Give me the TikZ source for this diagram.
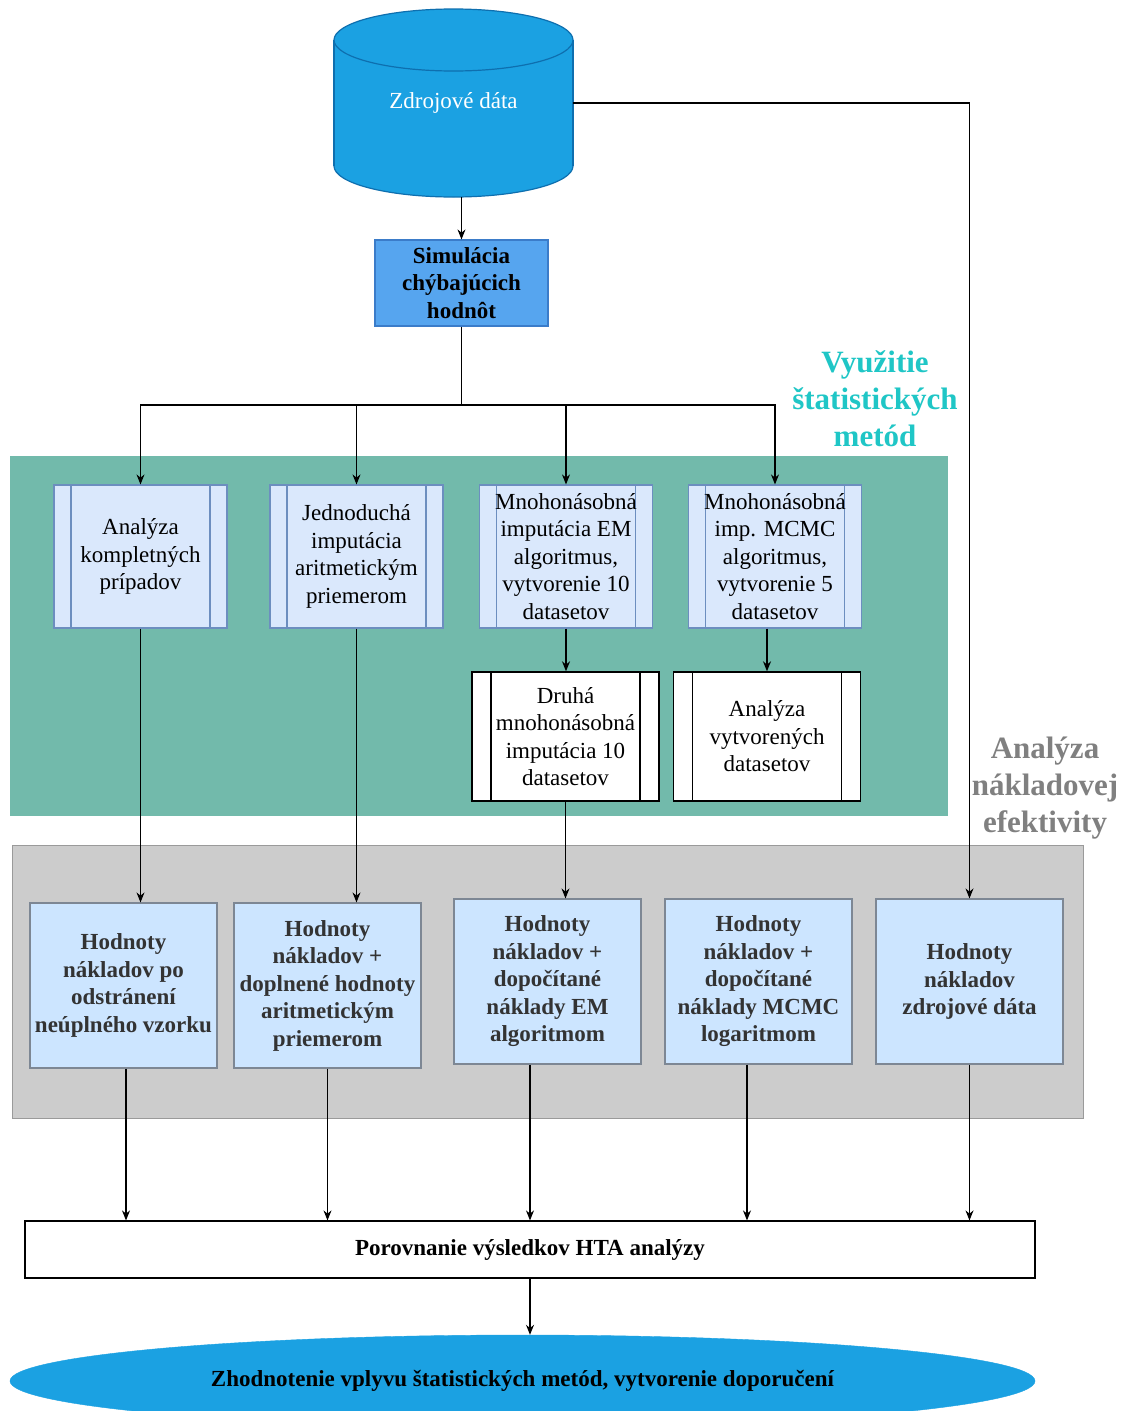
\documentclass[tikz,border=0pt]{standalone}
\usepackage{fontspec}
\setmainfont{Liberation Serif}
\usetikzlibrary{shapes.geometric,arrows.meta,calc}

\definecolor{cylblue}{HTML}{1BA1E2}
\definecolor{cylline}{HTML}{0E6FAF}
\definecolor{simblue}{HTML}{56A5EF}
\definecolor{simline}{HTML}{3B7CC9}
\definecolor{panelgreen}{HTML}{72BAAB}
\definecolor{procfill}{HTML}{DAE8FC}
\definecolor{procline}{HTML}{6C8EBF}
\definecolor{panelgray}{HTML}{CCCCCC}
\definecolor{grayline}{HTML}{9A9A9A}
\definecolor{costfill}{HTML}{CCE5FF}
\definecolor{costline}{HTML}{7D8794}
\definecolor{costtext}{HTML}{333333}
\definecolor{titlecyan}{HTML}{1FC6C6}
\definecolor{titlegray}{HTML}{808080}

\tikzset{
  txt/.style={font=\fontsize{23}{27.5}\selectfont, align=center},
  btxt/.style={font=\fontsize{23}{27.5}\selectfont\bfseries, align=center},
  grouptitle/.style={font=\fontsize{31}{37}\selectfont\bfseries, align=center},
  arr/.style={-{Stealth[length=10pt,width=8pt]}, line width=1.2pt},
  link/.style={line width=1.2pt},
  procbox/.style={draw=procline, fill=procfill, line width=1.2pt,
    minimum width=173, minimum height=143, inner sep=0, txt,
    path picture={\draw[procline, line width=1.2pt]
      ([xshift=17pt]path picture bounding box.north west) -- ([xshift=17pt]path picture bounding box.south west)
      ([xshift=-17pt]path picture bounding box.north east) -- ([xshift=-17pt]path picture bounding box.south east);}},
  subbox/.style={draw=black, fill=white, line width=1.4pt,
    minimum width=187, minimum height=129, inner sep=0, txt,
    path picture={\draw[black, line width=1.4pt]
      ([xshift=19pt]path picture bounding box.north west) -- ([xshift=19pt]path picture bounding box.south west)
      ([xshift=-19pt]path picture bounding box.north east) -- ([xshift=-19pt]path picture bounding box.south east);}},
  costbox/.style={draw=costline, fill=costfill, line width=1.2pt,
    minimum width=187, minimum height=165, inner sep=0, btxt, text=costtext},
}

\begin{document}
\begin{tikzpicture}[x=1pt, y=-1pt]
\clip (0,0) rectangle (1127,1411);
\fill[white] (0,0) rectangle (1127,1411);

% data source cylinder
\fill[cylblue, draw=cylline, line width=1.2pt] (453.5,166) ellipse [x radius=119.5, y radius=31];
\fill[cylblue] (334,40) rectangle (573,166);
\draw[cylline, line width=1.2pt] (334,40) -- (334,166) (573,40) -- (573,166);
\fill[cylblue, draw=cylline, line width=1.2pt] (453.5,40) ellipse [x radius=119.5, y radius=31];
\node[txt, text=white, minimum width=239, minimum height=188, inner sep=0] (src) at (453.5,103) {Zdrojové dáta};

% simulation step
\node[btxt, draw=simline, fill=simblue, line width=1.2pt, minimum width=173, minimum height=86, inner sep=0]
  (sim) at (461.5,283) {Simulácia\\chýbajúcich\\hodnôt};

% group panels
\fill[panelgreen] (10,456) rectangle (948,816);
\fill[panelgray, draw=grayline, line width=1pt] (12,845) rectangle (1083,1118);
\node[grouptitle, text=titlecyan] (gstat) at (875,399) {Využitie\\štatistických\\metód};
\node[grouptitle, text=titlegray] (gcost) at (1045,788) {Analýza\\nákladovej\\efektivity};

% statistical methods
\node[procbox] (p1) at (140.5,556.5) {Analýza\\kompletných\\prípadov};
\node[procbox] (p2) at (356.5,556.5) {Jednoduchá\\imputácia\\aritmetickým\\priemerom};
\node[procbox] (p3) at (566,556.5) {Mnohonásobná\\imputácia EM\\algoritmus,\\vytvorenie 10\\datasetov};
\node[procbox] (p4) at (775,556.5) {Mnohonásobná\\imp. MCMC\\algoritmus,\\vytvorenie 5\\datasetov};
\node[subbox] (p5) at (565.5,736.5) {Druhá\\mnohonásobná\\imputácia 10\\datasetov};
\node[subbox] (p6) at (767,736.5) {Analýza\\vytvorených\\datasetov};

% cost values
\node[costbox] (b1) at (123.5,985.5) {Hodnoty\\nákladov po\\odstránení\\neúplného vzorku};
\node[costbox] (b2) at (327.5,985.5) {Hodnoty\\nákladov +\\doplnené hodnoty\\aritmetickým\\priemerom};
\node[costbox] (b3) at (547.5,981.5) {Hodnoty\\nákladov +\\dopočítané\\náklady EM\\algoritmom};
\node[costbox] (b4) at (758.5,981.5) {Hodnoty\\nákladov +\\dopočítané\\náklady MCMC\\logaritmom};
\node[costbox] (b5) at (969.5,981.5) {Hodnoty\\nákladov\\zdrojové dáta};

% comparison and conclusion
\node[btxt, draw=black, fill=white, line width=1.2pt, minimum width=1010, minimum height=57, inner sep=0]
  (hta) at (530,1249.5) {Porovnanie výsledkov HTA analýzy};
\node[btxt, ellipse, fill=cylblue, draw=cylblue, minimum width=1025, minimum height=92, inner sep=0]
  (ell) at (522.5,1381) {Zhodnotenie vplyvu štatistických metód, vytvorenie doporučení};

% connectors
\draw[arr] (sim.north |- src.south) -- (sim.north);
\coordinate (fork) at (sim.south |- 0,405);
\draw[link] (sim.south) -- (fork);
\draw[arr] (fork) -| (p1.north);
\draw[arr] (fork) -| (p2.north);
\draw[arr] (fork) -| (p3.north);
\draw[arr] (fork) -| (p4.north);
\draw[arr] (p3.south) -- (p3.south |- p5.north);
\draw[arr] (p6.north |- p4.south) -- (p6.north);
\draw[arr] (p1.south) -- (p1.south |- b1.north);
\draw[arr] (p2.south) -- (p2.south |- b2.north);
\draw[arr] (p5.south) -- (p5.south |- b3.north);
\draw[arr] (src.east) -| (b5.north);
\draw[arr] ([xshift=2.5pt]b1.south) -- ([xshift=2.5pt]b1.south |- hta.north);
\draw[arr] (b2.south) -- (b2.south |- hta.north);
\draw[arr] ([xshift=-17.5pt]b3.south) -- ([xshift=-17.5pt]b3.south |- hta.north);
\draw[arr] ([xshift=-11.5pt]b4.south) -- ([xshift=-11.5pt]b4.south |- hta.north);
\draw[arr] (b5.south) -- (b5.south |- hta.north);
\draw[arr] (hta.south) -- (hta.south |- ell.north);
\end{tikzpicture}
\end{document}
